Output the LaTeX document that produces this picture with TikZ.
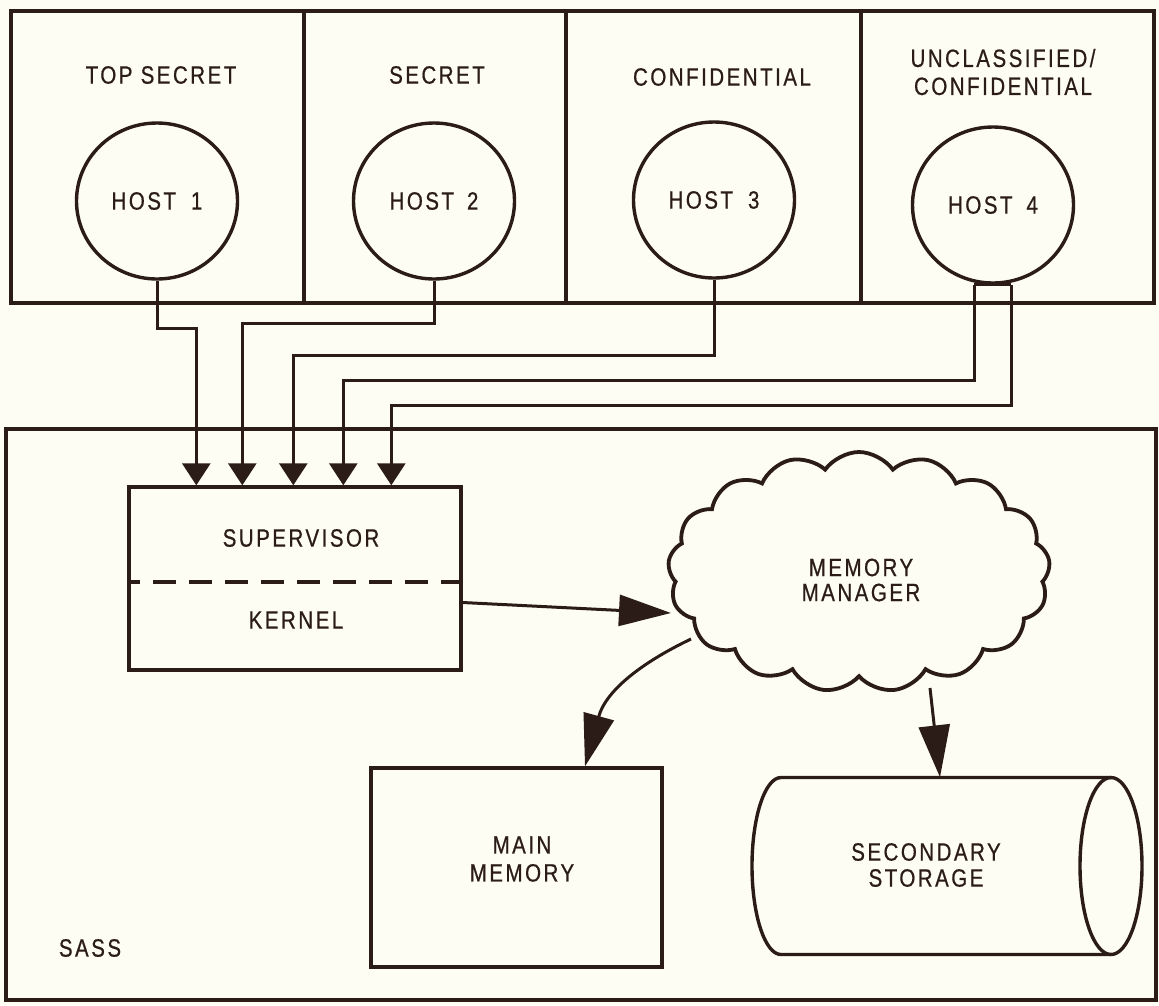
\documentclass[tikz,border=0pt]{standalone}
\usepackage{fontspec}
\newfontfamily\labfont{Liberation Sans}[FakeStretch=0.82,LetterSpace=10,FakeBold=0.6]
\usetikzlibrary{arrows.meta,shapes.geometric,shapes.symbols,calc}
\definecolor{ink}{HTML}{2B1C17}
\definecolor{paper}{HTML}{FDFDF3}
\begin{document}
\begin{tikzpicture}[x=1pt,y=-1pt,
  frame/.style={draw=ink,line width=3.4pt},
  lbl/.style={text=ink,font=\labfont\fontsize{25}{28}\selectfont,align=center,inner sep=0pt},
  host/.style={ellipse,draw=ink,line width=3.4pt,minimum width=161pt,minimum height=156pt,inner sep=0pt,lbl},
  boxnode/.style={draw=ink,line width=3.4pt,inner sep=0pt},
  conn/.style={draw=ink,line width=3pt},
  intip/.style={-{Triangle[width=28pt,length=22pt]}},
  longtip/.style={-{Triangle[width=31pt,length=52pt]}},
]
\fill[paper] (0,0) rectangle (1159,1005);
\useasboundingbox (0,0) rectangle (1159,1005);

% top frame with four panels
\draw[frame] (11,11) rectangle (1154,303);
\draw[frame] (304,11) -- (304,303) (566,11) -- (566,303) (861,11) -- (861,303);

\node[lbl] (l1) at (161,75) {TOP SECRET};
\node[lbl] (l2) at (437,75) {SECRET};
\node[lbl] (l3) at (722,77) {CONFIDENTIAL};
\node[lbl] (l4) at (1003,72) {UNCLASSIFIED/\\CONFIDENTIAL};

\node[host] (h1) at (157,201) {HOST\hspace{15pt}1};
\node[host] (h2) at (434,201) {HOST\hspace{13pt}2};
\node[host] (h3) at (714,200) {HOST\hspace{15pt}3};
\node[host] (h4) at (993,205) {HOST\hspace{14pt}4};

% SASS frame
\draw[frame] (6,429) rectangle (1156,1000);
\node[lbl] (sass) at (90,948) {SASS};

% supervisor / kernel
\node[boxnode,minimum width=332pt,minimum height=183pt] (sup) at (295,578.5) {};
\node[lbl] (supt) at (301,538) {SUPERVISOR};
\node[lbl] (kern) at (296,620) {KERNEL};
\draw[ink,line width=4.5pt,dash pattern=on 23pt off 13pt,dash phase=10pt] (sup.west |- 0,582) -- (sup.east |- 0,582);

\coordinate (a1) at ($(sup.north west)+(69,0)$);
\coordinate (a2) at ($(sup.north west)+(115,0)$);
\coordinate (a3) at ($(sup.north west)+(166,0)$);
\coordinate (a4) at ($(sup.north west)+(216,0)$);
\coordinate (a5) at ($(sup.north west)+(264,0)$);

\draw[conn,intip] (h1.south) |- (a1 |- 0,328) -- (a1);
\draw[conn,intip] (h2.south) |- (a2 |- 0,323) -- (a2);
\draw[conn,intip] (h3.south) |- (a3 |- 0,355) -- (a3);
\draw[conn] ($(h4.south)+(-19,0)$) -- ($(h4.south)+(18,0)$);
\draw[conn,intip] ($(h4.south)+(-19,0)$) |- (a4 |- 0,380) -- (a4);
\draw[conn,intip] ($(h4.south)+(18,0)$) |- (a5 |- 0,405) -- (a5);

% memory manager cloud
\node[cloud,draw=ink,line width=3.8pt,cloud puffs=17,cloud puff arc=110,cloud ignores aspect,minimum width=382pt,minimum height=240pt,inner sep=0pt] (mm) at (859,572) {};
\node[lbl,font=\labfont\fontsize{25}{25}\selectfont] (mmt) at (861,580) {MEMORY\\MANAGER};

% main memory
\node[boxnode,minimum width=291pt,minimum height=199pt] (main) at (516.5,867.5) {};
\node[lbl] (maint) at (522,859) {MAIN\\MEMORY};

% secondary storage cylinder
\node[minimum width=390pt,minimum height=177pt,inner sep=0pt] (stor) at (947,866) {};
\draw[ink,line width=3.4pt] (1111,777.5) -- (781,777.5) arc[start angle=270,end angle=90,x radius=29,y radius=88.5] -- (1111,954.5);
\draw[ink,line width=3.4pt] (1111,866) ellipse [x radius=31, y radius=88.5];
\node[lbl,font=\labfont\fontsize{25}{26}\selectfont] (stort) at (926,865) {SECONDARY\\STORAGE};

% connectors
\draw[conn,longtip] ($(sup.east)+(0,24)$) -- ($(mm.center)+(-188,41)$);
\draw[conn,longtip] ($(mm.center)+(-168,67)$) .. controls ($(mm.center)+(-212,88)$) and ($(main.north)+(90,-78)$) .. ($(main.north)+(68.5,0)$);
\draw[conn,longtip] ($(mm.center)+(71,116)$) -- ($(stor.north)+(-7,0)$);
\end{tikzpicture}
\end{document}
